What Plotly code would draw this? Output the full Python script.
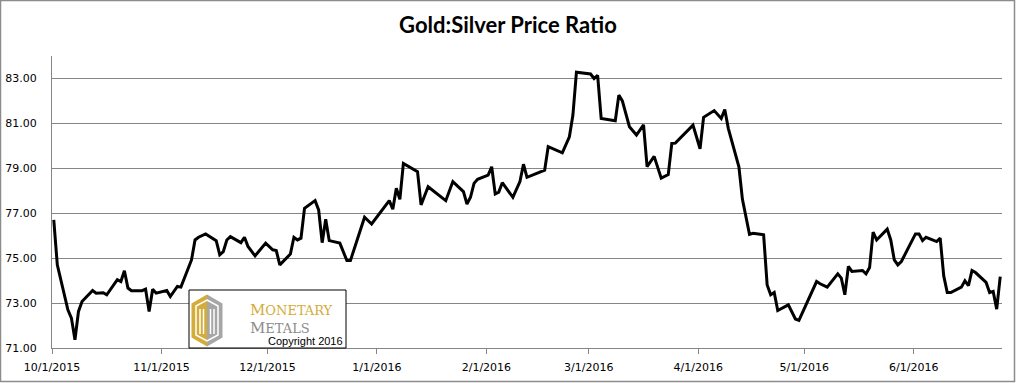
import pandas as pd
import plotly.graph_objects as go

dates = [
    "2015-10-01", "2015-10-02", "2015-10-05", "2015-10-06", "2015-10-07", "2015-10-08", "2015-10-09",
    "2015-10-12", "2015-10-13", "2015-10-15", "2015-10-16", "2015-10-19", "2015-10-20", "2015-10-21",
    "2015-10-22", "2015-10-23", "2015-10-26", "2015-10-27", "2015-10-28", "2015-10-29", "2015-10-30",
    "2015-11-02", "2015-11-03", "2015-11-05", "2015-11-06", "2015-11-09", "2015-11-10", "2015-11-11",
    "2015-11-13", "2015-11-16", "2015-11-17", "2015-11-18", "2015-11-19", "2015-11-20", "2015-11-23",
    "2015-11-24", "2015-11-25", "2015-11-27", "2015-11-30", "2015-12-02", "2015-12-03", "2015-12-04",
    "2015-12-07", "2015-12-08", "2015-12-09", "2015-12-10", "2015-12-11", "2015-12-14", "2015-12-15",
    "2015-12-16", "2015-12-17", "2015-12-18", "2015-12-21", "2015-12-23", "2015-12-24", "2015-12-28",
    "2015-12-30", "2016-01-04", "2016-01-05", "2016-01-06", "2016-01-07", "2016-01-08", "2016-01-12",
    "2016-01-13", "2016-01-15", "2016-01-20", "2016-01-22", "2016-01-25", "2016-01-26", "2016-01-27",
    "2016-01-28", "2016-01-29", "2016-02-01", "2016-02-02", "2016-02-03", "2016-02-04", "2016-02-05",
    "2016-02-08", "2016-02-10", "2016-02-11", "2016-02-12", "2016-02-17", "2016-02-18", "2016-02-22",
    "2016-02-24", "2016-02-25", "2016-02-26", "2016-03-01", "2016-03-02", "2016-03-03", "2016-03-04",
    "2016-03-08", "2016-03-09", "2016-03-10", "2016-03-12", "2016-03-14", "2016-03-16", "2016-03-17",
    "2016-03-19", "2016-03-21", "2016-03-23", "2016-03-24", "2016-03-25", "2016-03-30", "2016-04-01",
    "2016-04-02", "2016-04-05", "2016-04-07", "2016-04-08", "2016-04-09", "2016-04-12", "2016-04-13",
    "2016-04-15", "2016-04-16", "2016-04-19", "2016-04-20", "2016-04-21", "2016-04-22", "2016-04-23",
    "2016-04-26", "2016-04-28", "2016-04-29", "2016-05-04", "2016-05-05", "2016-05-07", "2016-05-10",
    "2016-05-11", "2016-05-12", "2016-05-13", "2016-05-14", "2016-05-17", "2016-05-18", "2016-05-19",
    "2016-05-20", "2016-05-21", "2016-05-24", "2016-05-25", "2016-05-26", "2016-05-27", "2016-05-28",
    "2016-06-01", "2016-06-02", "2016-06-03", "2016-06-04", "2016-06-07", "2016-06-08", "2016-06-09",
    "2016-06-10", "2016-06-11", "2016-06-14", "2016-06-15", "2016-06-16", "2016-06-17", "2016-06-18",
    "2016-06-21", "2016-06-22", "2016-06-23", "2016-06-24", "2016-06-25",
]

ratio = [
    76.70, 74.70, 72.70, 72.33, 71.37, 72.63, 73.07,
    73.56, 73.44, 73.46, 73.37, 74.04, 73.96, 74.44,
    73.67, 73.55, 73.55, 73.62, 72.63, 73.62, 73.44,
    73.56, 73.29, 73.74, 73.71, 74.92, 75.81, 75.93,
    76.08, 75.78, 75.15, 75.29, 75.81, 75.96, 75.69,
    75.93, 75.52, 75.10, 75.67, 75.37, 75.34, 74.70,
    75.18, 75.93, 75.81, 75.89, 77.22, 77.56, 77.15,
    75.69, 76.73, 75.78, 75.67, 74.89, 74.89, 76.82,
    76.52, 77.56, 77.18, 78.11, 77.62, 79.22, 78.85,
    77.37, 78.18, 77.56, 78.41, 77.96, 77.41, 77.71,
    78.33, 78.51, 78.70, 79.07, 77.86, 77.94, 78.36,
    77.71, 78.41, 79.18, 78.60, 78.92, 79.96, 79.69,
    80.40, 81.37, 83.28, 83.20, 83.00, 83.14, 81.22,
    81.12, 82.26, 82.00, 80.85, 80.48, 80.93, 79.07,
    79.53, 78.56, 78.72, 80.11, 80.12, 80.92, 79.87,
    81.27, 81.57, 81.22, 81.62, 80.78, 79.07, 77.62,
    76.06, 76.11, 76.04, 73.81, 73.37, 73.47, 72.67,
    72.92, 72.29, 72.23, 73.96, 73.86, 73.71, 74.30,
    74.11, 73.37, 74.63, 74.41, 74.45, 74.30, 74.58,
    76.16, 75.81, 76.29, 75.81, 74.92, 74.70, 74.85,
    76.08, 76.08, 75.78, 75.93, 75.74, 75.89, 74.21,
    73.47, 73.47, 73.71, 73.99, 73.78, 74.45, 74.36,
    73.92, 73.47, 73.52, 72.73, 74.18,
]

y_ticks = [71, 73, 75, 77, 79, 81, 83]
title_text = "Gold:Silver Price Ratio"
logo_line1 = "Monetary"
logo_line2 = "Metals"
logo_copy = "Copyright 2016"

W, H = 1016, 383
L, R, T, B = 52, 14, 56, 35
PW, PH = W - L - R, H - T - B


def px(x):
    return (x - L) / PW


def py(y):
    return (H - B - y) / PH


def small_caps(word, big, small):
    w = word.upper()
    return (f"<span style='font-size:{big}px'>{w[0]}</span>"
            f"<span style='font-size:{small}px'>{w[1:]}</span>")


# Excel date axis: each point sits in the middle of its day slot
x_vals = pd.to_datetime(dates) + pd.Timedelta(hours=12)

fig = go.Figure()
fig.add_trace(go.Scatter(
    x=x_vals, y=ratio, mode="lines",
    line=dict(color="#000000", width=3), hoverinfo="skip", showlegend=False,
))

grid = "#868686"
shapes = []
# outer chart border
shapes.append(dict(type="rect", xref="paper", yref="paper",
                   x0=px(0.5), x1=px(W - 1.5), y0=py(H - 1.5), y1=py(0.5),
                   line=dict(color="#8c8c8c", width=1.5), layer="above"))
# logo box
bx0, bx1, by0, by1 = 189, 346, 290, 348
shapes.append(dict(type="rect", xref="paper", yref="paper",
                   x0=px(bx0), x1=px(bx1), y0=py(by1), y1=py(by0),
                   fillcolor="white", line=dict(color="black", width=1), layer="above"))
# hexagon halves
cx, top, bot, lx, rx = 207, 294.5, 346.5, 191.5, 222.5
ut, lt = 303.5, 337.5


def path(pts):
    return "M " + " L ".join(f"{px(a):.5f},{py(b):.5f}" for a, b in pts) + " Z"


shapes.append(dict(type="path", xref="paper", yref="paper",
                   path=path([(cx, top), (cx, bot), (lx, lt), (lx, ut)]),
                   fillcolor="#D4AC3A", line=dict(width=0), layer="above"))
shapes.append(dict(type="path", xref="paper", yref="paper",
                   path=path([(cx, top), (rx, ut), (rx, lt), (cx, bot)]),
                   fillcolor="#A6A6A6", line=dict(width=0), layer="above"))
# inner white hexagon outline
shapes.append(dict(type="path", xref="paper", yref="paper",
                   path=path([(cx, 300), (218, 306), (218, 335), (cx, 341), (196, 335), (196, 306)]),
                   fillcolor="rgba(0,0,0,0)", line=dict(color="white", width=1.5), layer="above"))
# vertical white bars (M shapes)
for xb in (200, 203.5, 210.5, 214):
    shapes.append(dict(type="line", xref="paper", yref="paper",
                       x0=px(xb), x1=px(xb), y0=py(334), y1=py(309),
                       line=dict(color="white", width=1.5), layer="above"))

annotations = [
    dict(xref="paper", yref="paper", x=px(248), y=py(309.5), xanchor="left", yanchor="middle",
         text=small_caps(logo_line1, 15, 13), showarrow=False,
         font=dict(family="DejaVu Serif", size=13, color="#D4AC3A")),
    dict(xref="paper", yref="paper", x=px(248), y=py(327.5), xanchor="left", yanchor="middle",
         text=small_caps(logo_line2, 15, 13), showarrow=False,
         font=dict(family="DejaVu Serif", size=13, color="#8C8C8C")),
    dict(xref="paper", yref="paper", x=px(266), y=py(341), xanchor="left", yanchor="middle",
         text=logo_copy, showarrow=False,
         font=dict(family="Liberation Sans", size=11, color="#000000")),
]

fig.update_layout(
    width=W, height=H,
    margin=dict(l=L, r=R, t=T, b=B, pad=0, autoexpand=False),
    paper_bgcolor="white", plot_bgcolor="white",
    title=dict(text="<b>" + title_text + "</b>", x=0.5, xanchor="center",
               y=1 - 25 / H, yanchor="middle", yref="container", automargin=False,
               font=dict(family="Lato", size=22, color="#000000")),
    xaxis=dict(
        type="date", range=["2015-10-01", "2016-06-26"], automargin=False,
        tick0="2015-10-01", dtick="M1", tickformat="%-m/%-d/%Y",
        showgrid=False, showline=True, linecolor=grid, linewidth=1,
        ticks="outside", ticklen=5, tickcolor=grid, ticklabelstandoff=4,
        tickfont=dict(family="DejaVu Sans", size=11, color="#000000"),
        zeroline=False,
    ),
    yaxis=dict(
        range=[71, 84], tickvals=y_ticks, tickformat=".2f", automargin=False,
        showgrid=True, gridcolor=grid, gridwidth=1,
        showline=True, linecolor=grid, linewidth=1,
        ticks="", ticklabelstandoff=12,
        tickfont=dict(family="DejaVu Sans", size=11, color="#000000"),
        zeroline=False,
    ),
    shapes=shapes,
    annotations=annotations,
)

fig.write_html("out.html", config={"displayModeBar": False},
               post_script="document.body.style.margin='0';document.body.style.overflow='hidden';")
